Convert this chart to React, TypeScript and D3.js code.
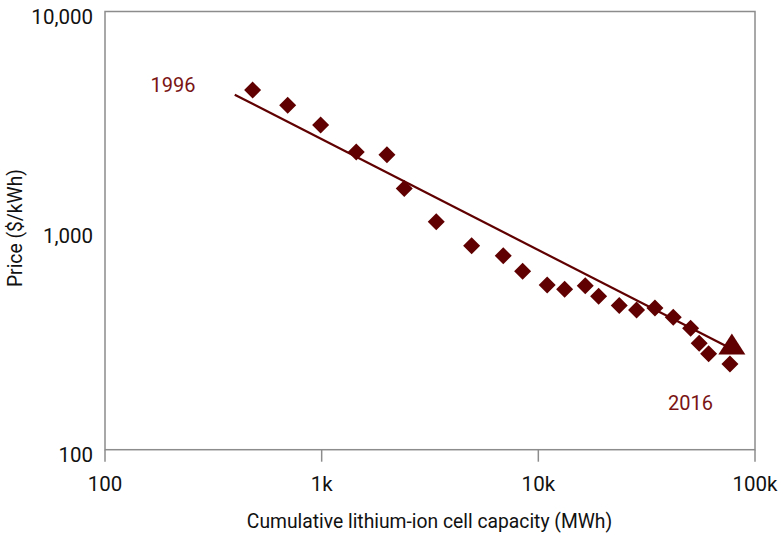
import React from "react";
import * as d3 from "d3";

const capacity = [480, 697, 989, 1444, 2001, 2405, 3380, 4922, 6887, 8465, 10990, 13224, 16461, 18977, 23628, 28410, 34530, 41940, 50440, 55270, 61090, 76600];
const price = [4381, 3729, 3031, 2282, 2219, 1558, 1097, 852, 767, 653, 564, 540, 560, 501, 455, 434, 443, 402, 358, 306, 274, 246];
const trendX = [397, 78200];
const trendY = [4170, 288];
const projX = [78200];
const projY = [297];
const xTicks = [100, 1000, 10000, 100000];
const xTickLabels = ["100", "1k", "10k", "100k"];
const yTicks = [100, 1000, 10000];
const yTickLabels = ["100", "1,000", "10,000"];
const annotLabels = ["1996", "2016"];
const annotX = [206, 50340];
const annotY = [4290, 151];

const W = 783;
const H = 536;
const left = 105, right = 755, top = 11.5, bottom = 449.7;
const RED = "#600000";
const AXIS = "#8c8c8c";
const FONT = "Roboto, 'DejaVu Sans', sans-serif";

export default function App() {
  const x = d3.scaleLog().domain([100, 100000]).range([left, right]);
  const y = d3.scaleLog().domain([100, 10000]).range([bottom, top]);
  const line = d3.line<number>().x((_, i) => x(trendX[i])).y((_, i) => y(trendY[i]));
  const d = 8.5;
  const diamond = `M0,${-d}L${d},0L0,${d}L${-d},0Z`;
  const tw = 13.5, th = 21;
  const tri = `M0,${-th * 0.6}L${tw},${th * 0.4}L${-tw},${th * 0.4}Z`;
  return (
    <svg width={W} height={H} style={{ position: "absolute", left: 0, top: 0, background: "#fff" }} fontFamily={FONT}>
      <rect x={left} y={top} width={right - left} height={bottom - top} fill="none" stroke={AXIS} strokeWidth={1.5} />
      {xTicks.map((t, i) => (
        <g key={"xt" + i}>
          <line x1={x(t)} x2={x(t)} y1={bottom} y2={bottom + 12} stroke={AXIS} strokeWidth={1.5} />
          <text x={x(t)} y={bottom + 41} textAnchor="middle" fontSize={20.5} fill="#111">{xTickLabels[i]}</text>
        </g>
      ))}
      {yTicks.map((t, i) => (
        <text key={"yt" + i} x={93} y={y(t) + 12.5} textAnchor="end" fontSize={20.5} fill="#111">{yTickLabels[i]}</text>
      ))}
      <text x={429.5} y={528} textAnchor="middle" fontSize={19.3} fill="#111">Cumulative lithium-ion cell capacity (MWh)</text>
      <text transform={`translate(22,228) rotate(-90)`} textAnchor="middle" fontSize={19.3} fill="#111">Price ($/kWh)</text>
      <path d={line(trendX) || ""} fill="none" stroke={RED} strokeWidth={2.2} />
      {capacity.map((c, i) => (
        <path key={"p" + i} d={diamond} transform={`translate(${x(c)},${y(price[i])})`} fill={RED} />
      ))}
      {projX.map((c, i) => (
        <path key={"tr" + i} d={tri} transform={`translate(${x(c)},${y(projY[i])})`} fill={RED} />
      ))}
      {annotLabels.map((t, i) => (
        <text key={"a" + i} x={x(annotX[i])} y={y(annotY[i])} textAnchor="middle" fontSize={20} fill="#7a1414">{t}</text>
      ))}
    </svg>
  );
}
